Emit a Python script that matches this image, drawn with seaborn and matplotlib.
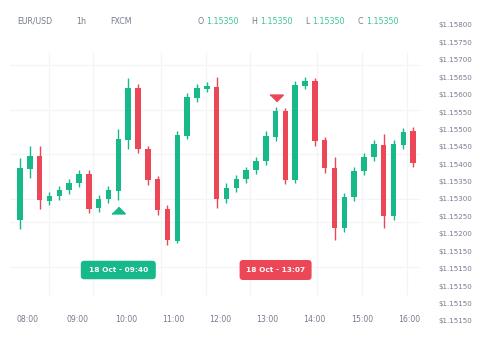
import numpy as np
import seaborn as sns
import matplotlib
matplotlib.use("Agg")
import matplotlib.pyplot as plt
import matplotlib.transforms as mtransforms
from matplotlib.patches import FancyBboxPatch
from matplotlib.markers import MarkerStyle

# ---- hourly EUR/USD candles ----
opens = [1.15240, 1.15386, 1.15424, 1.15295, 1.15309, 1.15326, 1.15345, 1.15372, 1.15275, 1.15301,
         1.15324, 1.15470, 1.15618, 1.15443, 1.15357, 1.15270, 1.15180, 1.15481, 1.15589, 1.15616,
         1.15623, 1.15301, 1.15331, 1.15357, 1.15383, 1.15410, 1.15479, 1.15553, 1.15355, 1.15626,
         1.15639, 1.15470, 1.15390, 1.15218, 1.15307, 1.15381, 1.15422, 1.15455, 1.15252, 1.15455,
         1.15495]
highs = [1.15417, 1.15452, 1.15452, 1.15320, 1.15337, 1.15358, 1.15383, 1.15383, 1.15311, 1.15337,
         1.15500, 1.15647, 1.15630, 1.15452, 1.15366, 1.15282, 1.15495, 1.15604, 1.15630, 1.15635,
         1.15651, 1.15345, 1.15369, 1.15393, 1.15420, 1.15495, 1.15565, 1.15562, 1.15640, 1.15651,
         1.15647, 1.15479, 1.15420, 1.15318, 1.15393, 1.15433, 1.15470, 1.15487, 1.15470, 1.15505,
         1.15508]
lows = [1.15213, 1.15359, 1.15270, 1.15284, 1.15297, 1.15314, 1.15335, 1.15261, 1.15263, 1.15288,
        1.15297, 1.15443, 1.15433, 1.15340, 1.15254, 1.15169, 1.15173, 1.15473, 1.15580, 1.15607,
        1.15273, 1.15289, 1.15319, 1.15345, 1.15372, 1.15398, 1.15468, 1.15342, 1.15345, 1.15616,
        1.15453, 1.15376, 1.15182, 1.15206, 1.15295, 1.15369, 1.15410, 1.15216, 1.15240, 1.15444,
        1.15393]
closes = [1.15388, 1.15424, 1.15297, 1.15309, 1.15326, 1.15347, 1.15372, 1.15272, 1.15300, 1.15326,
          1.15472, 1.15618, 1.15443, 1.15355, 1.15268, 1.15182, 1.15484, 1.15594, 1.15618, 1.15626,
          1.15301, 1.15332, 1.15357, 1.15383, 1.15409, 1.15482, 1.15554, 1.15355, 1.15628, 1.15639,
          1.15468, 1.15388, 1.15218, 1.15307, 1.15381, 1.15422, 1.15458, 1.15252, 1.15458, 1.15493,
          1.15404]

# price scale on the right
price_ticks = [1.15800 - 0.0005 * i for i in range(18)]
price_labels = ["$1.15800", "$1.15750", "$1.15700", "$1.15650", "$1.15600", "$1.15550",
                "$1.15500", "$1.15450", "$1.15400", "$1.15350", "$1.15300", "$1.15250",
                "$1.15200", "$1.15150", "$1.15150", "$1.15150", "$1.15150", "$1.15150"]

# time axis (positions in candle units)
time_labels = ["08:00", "09:00", "10:00", "11:00", "12:00", "13:00", "14:00", "15:00", "16:00"]
time_pos = [0.74, 5.83, 10.85, 15.6, 20.35, 25.1, 29.9, 34.77, 39.6]

# trade signals
signal_idx = [10, 26]
signal_side = ["buy", "sell"]
signal_text = ["18 Oct - 09:40", "18 Oct - 13:07"]

# header
symbol, interval, source = "EUR/USD", "1h", "FXCM"
ohlc_keys = ["O", "H", "L", "C"]
ohlc_vals = ["1.15350", "1.15350", "1.15350", "1.15350"]

GREEN = "#17b88a"
RED = "#ec4756"
GRAY = "#767b91"
GRID = "#f3f4f6"

sns.set_theme(style="white")
plt.rcParams["font.family"] = ["DejaVu Sans"]

W, H = 489, 341
fig = plt.figure(figsize=(W / 100, H / 100), dpi=100)
fig.patch.set_facecolor("white")

ax_top, ax_bot = 25.0, 320.8
ax = fig.add_axes([10 / W, (H - ax_bot) / H, 410 / W, (ax_bot - ax_top) / H])
ax.set_facecolor("white")
xmin, xmax = -1.017, 40.69
ax.set_xlim(xmin, xmax)
ax.set_ylim(1.14950, 1.15800)

# faint grid
grid_y = [1.15685, 1.15556, 1.15428, 1.15299, 1.15233, 1.15104]
grid_x = [2.95, 7.46, 14.31, 18.89, 23.43, 30.24, 34.76, 39.34]
ax.hlines(grid_y, xmin, xmax, color=GRID, lw=0.9, zorder=0)
ax.vlines(grid_x, 1.15024, 1.15722, color=GRID, lw=0.9, zorder=0)

o = np.array(opens)
c = np.array(closes)
hi = np.array(highs)
lo = np.array(lows)
x = np.arange(len(o))
up = c >= o
colors = np.where(up, GREEN, RED)

ax.vlines(x, lo, hi, color=colors, lw=1.0, zorder=2)
ax.bar(x, np.abs(c - o), bottom=np.minimum(o, c), width=0.56, color=colors,
       linewidth=0, zorder=3)

# signal markers and date badges
tri_up = MarkerStyle([(-1, -0.5), (1, -0.5), (0, 0.5)], joinstyle="round")
tri_dn = MarkerStyle([(-1, 0.5), (1, 0.5), (0, -0.5)], joinstyle="round")
badge_y = 1.15096
for i, side, txt in zip(signal_idx, signal_side, signal_text):
    if side == "buy":
        col, mk, my = GREEN, tri_up, lows[i] - 0.00030
        bw, bh = 0.75, 0.185
    else:
        col, mk, my = RED, tri_dn, highs[i] + 0.00025
        bw, bh = 0.72, 0.20
    ax.scatter([i], [my], marker=mk, s=90, color=col, edgecolors=col,
               linewidths=1.2, zorder=4)
    tr = fig.dpi_scale_trans + mtransforms.ScaledTranslation(i, badge_y, ax.transData)
    box = FancyBboxPatch((-bw / 2, -bh / 2), bw, bh,
                         boxstyle="round,pad=0,rounding_size=0.035",
                         fc=col, ec="none", transform=tr, zorder=5, clip_on=False)
    ax.add_patch(box)
    ax.text(i, badge_y, txt, color="white", fontsize=5.3, fontweight="bold",
            ha="center", va="center", zorder=6)

# axes ticks
ax.set_xticks(time_pos, time_labels)
ax.set_yticks(price_ticks, price_labels)
ax.yaxis.tick_right()
ax.tick_params(axis="x", length=0, pad=-4.5, labelsize=5.6, labelcolor=GRAY)
ax.tick_params(axis="y", length=0, pad=13, labelsize=5.1, labelcolor=GRAY)
for s in ax.spines.values():
    s.set_visible(False)
ax.grid(False)

# header line
hy = 1 - 21 / H
fig.text(17 / W, hy, symbol, fontsize=5.7, color=GRAY, va="center")
fig.text(76 / W, hy, interval, fontsize=5.7, color=GRAY, va="center")
fig.text(110 / W, hy, source, fontsize=5.7, color=GRAY, va="center")
for px in (66.5, 95):
    fig.text(px / W, hy, "·", fontsize=5, color="#eceef2", va="center", ha="center")
key_x = [198, 251.5, 305.5, 357.5]
val_x = [206, 260.5, 312.5, 366.5]
for kx, vx, k, v in zip(key_x, val_x, ohlc_keys, ohlc_vals):
    fig.text(kx / W, hy, k, fontsize=5.7, color=GRAY, va="center")
    fig.text(vx / W, hy, v, fontsize=5.7, color="#3bc49a", va="center")

fig.savefig("out.png", dpi=100, facecolor="white")
